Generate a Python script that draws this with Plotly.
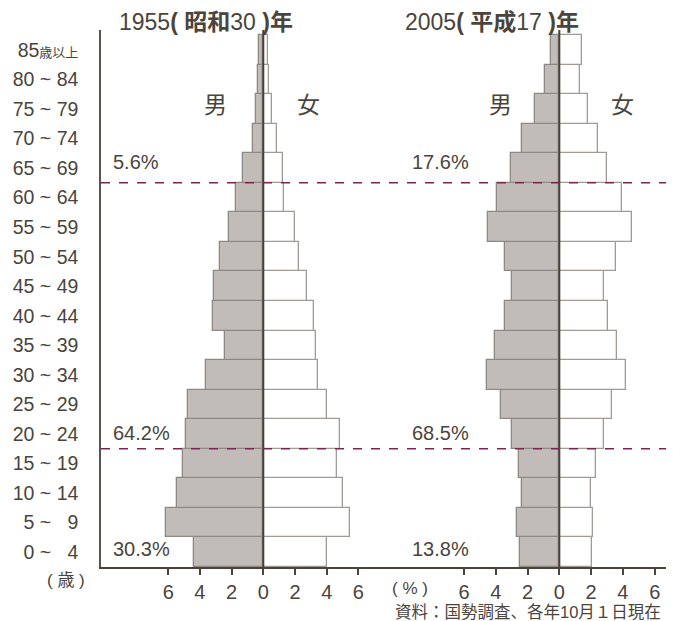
import plotly.graph_objects as go

age_labels = ["0 ~ \u20074", "5 ~ \u20079", "10 ~ 14", "15 ~ 19", "20 ~ 24", "25 ~ 29",
              "30 ~ 34", "35 ~ 39", "40 ~ 44", "45 ~ 49", "50 ~ 54", "55 ~ 59",
              "60 ~ 64", "65 ~ 69", "70 ~ 74", "75 ~ 79", "80 ~ 84",
              "85<span style='font-size:13px'>歳以上</span>"]

male_1955 = [4.37, 6.14, 5.44, 5.06, 4.87, 4.77, 3.59, 2.40, 3.16, 3.10, 2.74, 2.15,
             1.75, 1.29, 0.63, 0.48, 0.36, 0.27]
female_1955 = [4.05, 5.49, 5.00, 4.64, 4.81, 4.00, 3.48, 3.31, 3.20, 2.74, 2.28, 2.00,
               1.33, 1.27, 0.86, 0.53, 0.38, 0.28]
male_2005 = [2.50, 2.64, 2.37, 2.56, 3.00, 3.69, 4.57, 4.03, 3.40, 2.96, 3.42, 4.49,
             3.94, 3.04, 2.37, 1.51, 0.92, 0.52]
female_2005 = [2.08, 2.12, 2.01, 2.29, 2.83, 3.31, 4.21, 3.61, 3.04, 2.79, 3.56, 4.55,
               3.92, 2.98, 2.45, 1.78, 1.28, 1.40]

share_1955 = ["5.6%", "64.2%", "30.3%"]
share_2005 = ["17.6%", "68.5%", "13.8%"]
share_y = [13.2, 4.05, 0.12]
boundaries = [12.5, 3.5]

tick_vals = [-6, -4, -2, 0, 2, 4, 6]
tick_text = ["6", "4", "2", "0", "2", "4", "6"]

FONT = "Liberation Sans, Arial, Noto Sans CJK JP, sans-serif"
TXT = "#4a443d"
ypos = list(range(len(age_labels)))

MALE_FILL = "#c1bcb8"
MALE_LINE = "#8e8984"
FEM_LINE = "#a09b96"

fig = go.Figure()
for xa, m, f in [("x", male_1955, female_1955), ("x2", male_2005, female_2005)]:
    fig.add_trace(go.Bar(y=ypos, x=[-v for v in m], orientation="h", width=1.0,
                         marker=dict(color=MALE_FILL, line=dict(color=MALE_LINE, width=1.3)),
                         xaxis=xa, yaxis="y", showlegend=False, hoverinfo="skip"))
    fig.add_trace(go.Bar(y=ypos, x=f, orientation="h", width=1.0,
                         marker=dict(color="white", line=dict(color=FEM_LINE, width=1.3)),
                         xaxis=xa, yaxis="y", showlegend=False, hoverinfo="skip"))

W, H = 673, 621
L, R, T, B = 101, 7, 30, 54
pw = W - L - R
split = (411 - L) / pw

axis_common = dict(tickvals=tick_vals, ticktext=tick_text, showgrid=False, zeroline=False,
                   showline=True, linecolor="#4a443d", linewidth=1.5,
                   ticks="outside", ticklen=6, tickwidth=2, tickcolor="#4a443d",
                   tickfont=dict(family=FONT, size=20, color=TXT), fixedrange=True)

fig.update_layout(
    width=W, height=H, margin=dict(l=L, r=R, t=T, b=B),
    paper_bgcolor="white", plot_bgcolor="white", barmode="relative",
    bargap=0,
    xaxis=dict(domain=[0, split], range=[-10.24, 9.32], anchor="y", **axis_common),
    xaxis2=dict(domain=[split, 1], range=[-9.33, 6.71], anchor="y", **axis_common),
    yaxis=dict(range=[-0.5, 17.67], tickvals=ypos, ticktext=age_labels,
               showgrid=False, zeroline=False, showline=True, linecolor="#5a534b",
               linewidth=1.5, ticks="", ticklabelstandoff=17,
               tickfont=dict(family=FONT, size=19.5, color=TXT), fixedrange=True),
)

shapes = []
for xr in ["x", "x2"]:
    shapes.append(dict(type="line", xref=xr, yref="paper", x0=0, x1=0, y0=0, y1=1,
                       line=dict(color="#463f37", width=2)))
for yb in boundaries:
    shapes.append(dict(type="line", xref="paper", yref="y", x0=0, x1=1, y0=yb, y1=yb,
                       line=dict(color="#7b2450", width=1.6, dash="dash")))
fig.update_layout(shapes=shapes)

def px_x(px):
    return (px - L) / pw

def px_y(py):
    return (H - B - py) / (H - T - B)

ann = []
for txt, yy in zip(share_1955, share_y):
    ann.append(dict(text=txt, xref="paper", yref="y", x=px_x(111), y=yy, xanchor="left",
                    yanchor="middle", showarrow=False, font=dict(family=FONT, size=20, color=TXT)))
for txt, yy in zip(share_2005, share_y):
    ann.append(dict(text=txt, xref="paper", yref="y", x=px_x(410), y=yy, xanchor="left",
                    yanchor="middle", showarrow=False, font=dict(family=FONT, size=20, color=TXT)))
for txt, xp in [("男", 215), ("女", 308), ("男", 500), ("女", 622)]:
    ann.append(dict(text=txt, xref="paper", yref="paper", x=px_x(xp), y=px_y(103),
                    xanchor="center", yanchor="middle", showarrow=False,
                    font=dict(family="Noto Sans CJK JP", size=23, color=TXT)))
ann.append(dict(text="1955<b>( 昭和</b>30 <b>)年</b>", xref="paper", yref="paper",
                x=px_x(206), y=px_y(22), xanchor="center", yanchor="middle", showarrow=False,
                font=dict(family=FONT, size=23, color=TXT)))
ann.append(dict(text="2005<b>( 平成</b>17 <b>)年</b>", xref="paper", yref="paper",
                x=px_x(492), y=px_y(22), xanchor="center", yanchor="middle", showarrow=False,
                font=dict(family=FONT, size=23, color=TXT)))
ann.append(dict(text="( 歳 )", xref="paper", yref="paper", x=px_x(66), y=px_y(580),
                xanchor="center", yanchor="middle", showarrow=False,
                font=dict(family=FONT, size=17, color=TXT)))
ann.append(dict(text="( % )", xref="paper", yref="paper", x=px_x(410), y=px_y(588),
                xanchor="center", yanchor="middle", showarrow=False,
                font=dict(family=FONT, size=17, color=TXT)))
ann.append(dict(text="資料：国勢調査、各年10月１日現在", xref="paper", yref="paper",
                x=px_x(663), y=px_y(612), xanchor="right", yanchor="middle", showarrow=False,
                font=dict(family=FONT, size=16.5, color=TXT)))
fig.update_layout(annotations=ann)

fig.write_html("out.html", config={"displayModeBar": False},
               post_script="document.body.style.margin='0';")
